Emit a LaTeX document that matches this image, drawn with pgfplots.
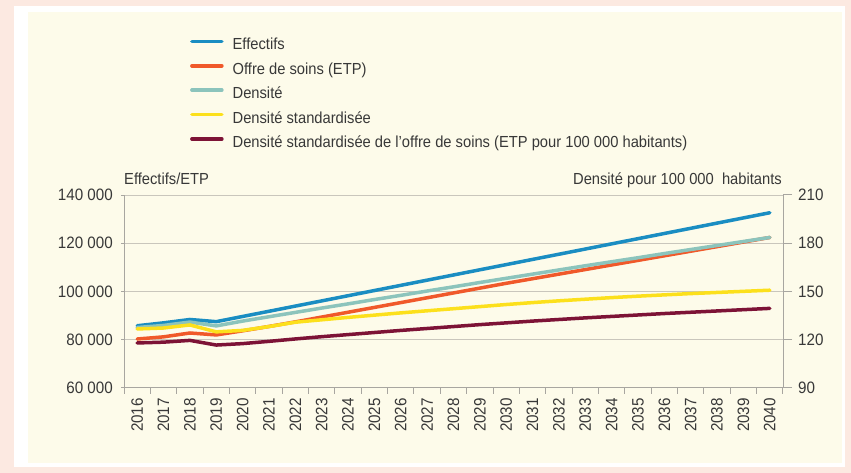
\documentclass[border=0pt]{standalone}
\usepackage{fontspec}
\setmainfont{Liberation Sans}[FakeStretch=0.92]
\usepackage{pgfplots}
\usepackage{pgfplotstable}
\pgfplotsset{compat=1.18}
\definecolor{cBlue}{HTML}{1A8DC2}
\definecolor{cOrange}{HTML}{F0592A}
\definecolor{cTeal}{HTML}{8CC4BC}
\definecolor{cYellow}{HTML}{FCE01C}
\definecolor{cRed}{HTML}{7D1336}
\definecolor{pinkbg}{HTML}{FCE9E1}
\definecolor{creambg}{HTML}{FDFBEA}
\definecolor{gridc}{HTML}{C9C6BC}
\definecolor{axc}{HTML}{A8A6A0}
\definecolor{txt}{HTML}{383838}

\pgfplotstableread{
year eff offre
2016 85800 80300
2017 87000 81200
2018 88400 82800
2019 87500 82000
2020 89650 83700
2021 91800 85500
2022 93950 87400
2023 96100 89400
2024 98250 91400
2025 100400 93400
2026 102550 95400
2027 104700 97400
2028 106850 99400
2029 109000 101400
2030 111150 103400
2031 113300 105300
2032 115450 107200
2033 117600 109100
2034 119750 111000
2035 121900 112900
2036 124050 114800
2037 126200 116700
2038 128350 118600
2039 130500 120500
2040 132650 122400
}\tabLeft

\pgfplotstableread{
year dens densstd densoffre
2016 127.6 126.7 118.0
2017 128.9 127.3 118.5
2018 131.0 129.2 119.6
2019 128.6 124.9 116.7
2020 131.6 125.8 117.6
2021 134.3 128.2 119.0
2022 137.0 130.9 120.5
2023 139.7 132.4 121.9
2024 142.3 133.9 123.2
2025 145.0 135.3 124.5
2026 147.6 136.7 125.8
2027 150.3 138.0 127.0
2028 152.9 139.3 128.2
2029 155.6 140.6 129.4
2030 158.2 141.9 130.5
2031 160.8 143.1 131.6
2032 163.4 144.2 132.6
2033 166.0 145.2 133.6
2034 168.5 146.2 134.5
2035 171.0 147.1 135.4
2036 173.6 147.9 136.3
2037 176.1 148.7 137.1
2038 178.6 149.4 137.9
2039 181.1 150.1 138.7
2040 183.6 150.8 139.5
}\tabRight

\pgfplotsset{
  base/.style={
    at={(124pt,85pt)}, anchor=south west,
    scale only axis, width=659pt, height=193pt,
    xmin=2015.5, xmax=2040.5,
    tick align=outside,
    axis line style={axc, line width=1pt},
    tick style={axc, line width=1pt},
    every tick label/.append style={txt, font=\fontsize{16.5}{16.5}\selectfont},
    /pgf/number format/assume math mode=true,
    /pgf/number format/1000 sep={},
    scaled y ticks=false,
    clip mode=individual,
  },
  lin/.style={line width=3.5pt, line join=round, line cap=round},
}

\begin{document}
\begin{tikzpicture}[x=1pt,y=1pt]
\useasboundingbox (0,0) rectangle (851,473);
\fill[pinkbg] (0,0) rectangle (851,473);
\fill[white] (14,6) rectangle (845,467);
\fill[creambg] (28,10) rectangle (842,461);

\begin{axis}[base,
  ymin=60000, ymax=140000,
  axis x line*=bottom, axis y line*=left,
  ytick={60000,80000,100000,120000,140000},
  yticklabels={60 000,80 000,100 000,120 000,140 000},
  ymajorgrids, grid style={gridc, line width=1pt},
  major tick length=3pt,
  xtick={2016,...,2040},
  major x tick style={draw=none},
  extra x ticks={2015.5,2016.5,...,2040.5},
  extra x tick labels={},
  extra x tick style={major tick length=6pt, major x tick style={draw=axc, line width=1pt}},
  xticklabel style={rotate=90, anchor=east, inner sep=1pt, xshift=-6pt},
  yticklabel style={inner sep=2pt, xshift=-6pt},
  legend cell align=left,
  legend style={draw=none, fill=none, at={(0.0955,1.823)}, anchor=north west,
    font=\fontsize{16}{16}\selectfont, text=txt, row sep=9.4pt,
    nodes={inner sep=0pt, text height=11.5pt, text depth=3.5pt},
    /tikz/every odd column/.append style={column sep=9pt}},
  legend image code/.code={\draw[#1] (0pt,4.5pt) -- (30pt,4.5pt);},
]
\addplot[lin, cBlue] table[x=year, y=eff] {\tabLeft};
\addlegendentry{Effectifs}
\addplot[lin, cOrange] table[x=year, y=offre] {\tabLeft};
\addlegendentry{Offre de soins (ETP)}
\addlegendimage{lin, cTeal}
\addlegendentry{Densité}
\addlegendimage{lin, cYellow}
\addlegendentry{Densité standardisée}
\addlegendimage{lin, cRed}
\addlegendentry{Densité standardisée de l'offre de soins (ETP pour 100 000 habitants)}
\node[anchor=base west, text=txt, font=\fontsize{16}{16}\selectfont, inner sep=0pt]
  at (rel axis cs:0,1) [yshift=10.5pt] {Effectifs/ETP};
\node[anchor=base east, text=txt, font=\fontsize{16}{16}\selectfont, inner sep=0pt]
  at (rel axis cs:1,1) [yshift=10.5pt, xshift=-1pt] {Densité pour 100 000\ \ habitants};
\end{axis}

\begin{axis}[base,
  ymin=90, ymax=210,
  axis x line=none, axis y line*=right,
  ytick={90,120,150,180,210},
  major tick length=9pt,
  yticklabel style={inner sep=2pt, xshift=4pt},
]
\addplot[lin, cTeal] table[x=year, y=dens] {\tabRight};
\addplot[lin, cYellow] table[x=year, y=densstd] {\tabRight};
\addplot[lin, cRed] table[x=year, y=densoffre] {\tabRight};
\end{axis}
\end{tikzpicture}
\end{document}
